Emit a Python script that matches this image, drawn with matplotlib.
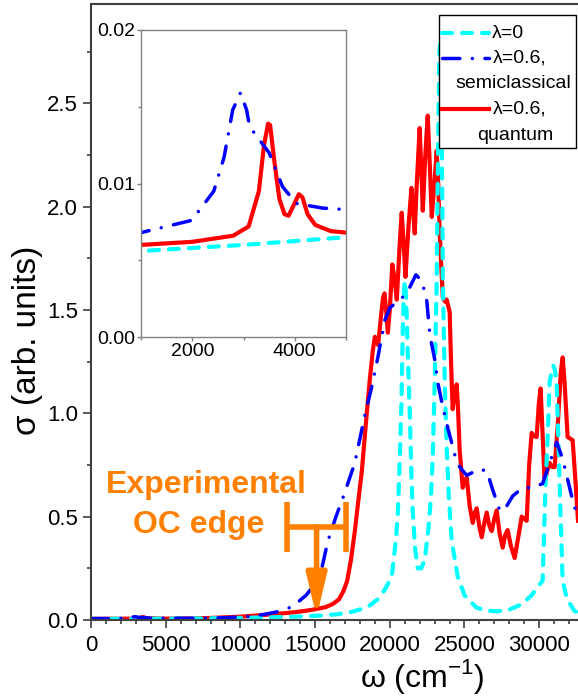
import matplotlib
matplotlib.use("Agg")
import matplotlib.pyplot as plt
from matplotlib.lines import Line2D
from matplotlib.patches import Rectangle
from matplotlib.ticker import MultipleLocator, FormatStrFormatter

plt.rcParams.update({
    "font.family": ["Liberation Sans", "DejaVu Sans"],
    "mathtext.fontset": "custom",
    "mathtext.rm": "Liberation Sans",
})

CYAN = "#00FFFF"; BLUE = "#0000FF"; RED = "#FF0000"; ORANGE = "#FF8000"
SPINE = "#404040"

# lambda = 0
cyan_w = [0, 1000, 3000, 5000, 8000, 10000, 12000, 14000, 15500, 16500, 17500, 18500,
          19200, 19700, 20130, 20400, 20540, 20680, 20780, 20870, 20950, 21020, 21100,
          21200, 21340, 21440, 21540, 21700, 21870, 22100, 22340, 22600, 22760, 22880,
          23010, 23140, 23230, 23320, 23400, 23470, 23550, 23680, 23800, 23950, 24150,
          24550, 25000, 25800, 26500, 27200, 28000, 28800, 29500, 29900, 30230, 30430,
          30580, 30700, 30850, 30950, 31050, 31170, 31370, 31570, 31800, 32050, 32350, 32600]
cyan_s = [0.0050, 0.0056, 0.0060, 0.0065, 0.0080, 0.010, 0.013, 0.017, 0.022, 0.028, 0.040, 0.062,
          0.10, 0.15, 0.21, 0.38, 0.52, 0.80, 1.05, 1.40, 1.60, 1.64, 1.55,
          1.30, 1.00, 0.72, 0.52, 0.34, 0.25, 0.25, 0.29, 0.45, 0.60, 0.80,
          1.16, 1.64, 2.25, 2.75, 2.80, 2.50, 1.64, 1.16, 0.85, 0.60, 0.38,
          0.21, 0.12, 0.06, 0.045, 0.042, 0.05, 0.075, 0.12, 0.16, 0.19, 0.66,
          0.90, 1.15, 1.21, 1.23, 1.21, 1.15, 0.66, 0.19, 0.12, 0.08, 0.045, 0.035]

# lambda = 0.6, semiclassical
blue_w = [0, 1000, 1990, 2420, 2620, 2790, 2940, 3060, 3120, 3500, 3760, 4030, 4540, 5000,
          7000, 9000, 10500, 11500, 12500, 13500, 14400, 15060, 15450, 15850, 16400, 16860,
          17660, 18330, 18800, 19200, 19670, 20000, 21000, 21340, 21750, 22140, 22470, 22680,
          23010, 23210, 23550, 23880, 24350, 24680, 25150, 26020, 26500, 26890, 27360, 27650,
          28230, 28900, 29570, 30230, 30700, 31170, 31570, 31840, 32240, 32600]
blue_s = [0.0065, 0.0068, 0.0076, 0.0095, 0.0117, 0.0148, 0.0159, 0.0148, 0.0137, 0.0120,
          0.0098, 0.0087, 0.0084, 0.0083,
          0.0085, 0.011, 0.017, 0.026, 0.040, 0.065, 0.12, 0.18, 0.25, 0.38, 0.50, 0.59,
          0.76, 0.99, 1.13, 1.27, 1.45, 1.51, 1.57, 1.61, 1.67, 1.64, 1.55, 1.38,
          1.26, 1.15, 1.03, 0.93, 0.80, 0.74, 0.70, 0.73, 0.72, 0.63, 0.53, 0.53,
          0.60, 0.64, 0.64, 0.66, 0.76, 0.86, 0.78, 0.70, 0.58, 0.49]

# lambda = 0.6, quantum
red_w = [0, 1000, 2000, 2800, 3100, 3300, 3400, 3480, 3520, 3600, 3700, 3800, 3880, 3980,
         4080, 4150, 4250, 4400, 4700, 5000, 6500, 8000, 10000, 11500, 12500, 13700, 14700,
         15700, 16200, 16600, 16900, 17150, 17400, 17660, 17900, 18130, 18460, 18660, 18860,
         19000, 19100, 19220, 19400, 19550, 19650, 19750, 19870, 20000, 20170, 20300, 20470,
         20650, 20800, 20930, 21050, 21250, 21450, 21550, 21670, 21800, 22000, 22100, 22210,
         22380, 22540, 22680, 22810, 22980, 23140, 23250, 23340, 23550, 23700, 23810, 24010,
         24100, 24210, 24350, 24480, 24580, 24680, 24883, 25020, 25151, 25350, 25552, 25700,
         25819, 26000, 26154, 26330, 26488, 26650, 26823, 27000, 27157, 27350, 27559, 27720,
         27893, 28100, 28361, 28600, 28829, 29000, 29164, 29330, 29498, 29650, 29833, 29980,
         30100, 30230, 30368, 30530, 30702, 30870, 31037, 31250, 31450, 31572, 31700, 31906,
         32241, 32450, 32600]
red_s = [0.006, 0.006, 0.0062, 0.0066, 0.0072, 0.0095, 0.0125, 0.0139, 0.0138, 0.0115, 0.0090,
         0.0080, 0.0079, 0.0086, 0.0093, 0.0091, 0.0080, 0.0073, 0.0069, 0.0068, 0.0075, 0.010,
         0.016, 0.024, 0.030, 0.038, 0.048, 0.062, 0.078, 0.10, 0.14, 0.19, 0.29, 0.43, 0.58,
         0.72, 1.00, 1.16, 1.30, 1.37, 1.36, 1.33, 1.46, 1.56, 1.58, 1.50, 1.39, 1.50, 1.72,
         1.66, 1.55, 1.80, 1.97, 1.82, 1.66, 1.90, 2.09, 2.00, 1.87, 2.10, 2.38, 2.20, 1.98,
         2.25, 2.44, 2.20, 1.95, 2.10, 2.27, 2.10, 1.87, 1.56, 1.54, 1.55, 1.49, 1.25, 1.02,
         1.10, 1.14, 1.00, 0.82, 0.64, 0.67, 0.69, 0.55, 0.47, 0.52, 0.54, 0.45, 0.40, 0.47,
         0.52, 0.46, 0.43, 0.49, 0.53, 0.42, 0.35, 0.41, 0.435, 0.36, 0.30, 0.40, 0.50, 0.49,
         0.48, 0.75, 0.905, 0.89, 0.885, 1.05, 1.12, 0.90, 0.66, 0.72, 0.76, 0.74, 0.74, 0.95,
         1.20, 1.27, 1.15, 0.885, 0.87, 0.65, 0.48]

# experimental optical-conductivity edge
edge_w = 15100
edge_err = 2000

W, H = 578, 698
def fx(px): return px / W
def fy(py): return 1 - py / H

fig = plt.figure(figsize=(W / 100, H / 100), dpi=100)
ax = fig.add_axes([fx(91), fy(620), 1 - fx(91), fy(4) - fy(620)])

cyan_style = dict(color=CYAN, lw=3, ls=(0, (2.4, 2.4)), dash_capstyle="round")
blue_style = dict(color=BLUE, lw=2.5, ls=(0, (5, 3.6, 0.01, 3.6)), dash_capstyle="round")
red_style = dict(color=RED, lw=3, solid_joinstyle="round")

ax.plot(red_w, red_s, **red_style)
ax.plot(cyan_w, cyan_s, **cyan_style)
ax.plot(blue_w, blue_s, **blue_style)

ax.set_xlim(0, 32600)
ax.set_ylim(0, 2.98)
ax.xaxis.set_major_locator(MultipleLocator(5000))
ax.xaxis.set_minor_locator(MultipleLocator(1000))
ax.yaxis.set_major_locator(MultipleLocator(0.5))
ax.yaxis.set_minor_locator(MultipleLocator(0.25))
ax.yaxis.set_major_formatter(FormatStrFormatter("%.1f"))
ax.tick_params(which="major", direction="out", length=5.5, width=1.2, labelsize=16,
               color=SPINE, pad=4)
ax.tick_params(which="minor", direction="out", length=3, width=1.2, color=SPINE)
ax.tick_params(axis="x", pad=5)
for s in ("left", "bottom", "top"):
    ax.spines[s].set_color(SPINE)
    ax.spines[s].set_linewidth(1.5)
ax.spines["right"].set_visible(False)

ax.set_ylabel("σ (arb. units)", fontsize=24)
ax.yaxis.set_label_coords(-0.098, (620 - 340) / 616)
ax.set_xlabel("ω (cm$^{\\mathregular{-1}}$)", fontsize=23, va="center")
ax.xaxis.set_label_coords((422 - 91) / 487, (620 - 677) / 616)

# experimental edge marker
ax.errorbar([edge_w], [0.45], xerr=[edge_err], fmt="none", ecolor=ORANGE,
            elinewidth=4, capsize=18, capthick=4)
ax.annotate("", xy=(edge_w, 0.015), xytext=(edge_w, 0.45),
            arrowprops=dict(arrowstyle="-|>,head_length=1.25,head_width=0.3",
                            mutation_scale=20, color=ORANGE, lw=4,
                            shrinkA=0, shrinkB=0))
fig.text(fx(206), fy(493), "Experimental", ha="center", va="baseline",
         fontsize=23, fontweight="bold", color=ORANGE)
fig.text(fx(199), fy(533), "OC edge", ha="center", va="baseline",
         fontsize=23, fontweight="bold", color=ORANGE)

# inset: low-frequency region
axin = fig.add_axes([fx(141), fy(337), fx(346) - fx(141), fy(30) - fy(337)])
axin.plot(red_w, red_s, **red_style)
axin.plot(cyan_w, cyan_s, **cyan_style)
axin.plot(blue_w, blue_s, **blue_style)
axin.set_xlim(1000, 5000)
axin.set_ylim(0, 0.02)
axin.xaxis.set_major_locator(MultipleLocator(2000))
axin.xaxis.set_minor_locator(MultipleLocator(1000))
axin.yaxis.set_major_locator(MultipleLocator(0.01))
axin.yaxis.set_minor_locator(MultipleLocator(0.005))
axin.yaxis.set_major_formatter(FormatStrFormatter("%.2f"))
axin.tick_params(which="major", direction="out", length=3, width=1, labelsize=14,
                 color="#808080", pad=1)
axin.tick_params(which="minor", direction="out", length=2, width=1, color="#808080")
for s in axin.spines.values():
    s.set_color("#808080")
    s.set_linewidth(1)

# legend, drawn by hand so the two-line labels sit centred
fig.add_artist(Rectangle((fx(439), fy(148)), fx(576) - fx(439), fy(15) - fy(148),
                         transform=fig.transFigure, facecolor="white",
                         edgecolor="black", lw=1, zorder=5))
for y, style in ((33, cyan_style), (58, blue_style), (109, red_style)):
    fig.add_artist(Line2D([fx(442), fx(489)], [fy(y), fy(y)], transform=fig.transFigure,
                          zorder=6, **style))
fig.text(fx(492), fy(33), "λ=0", ha="left", va="center", fontsize=14, zorder=7)
fig.text(fx(520), fy(58), "λ=0.6,", ha="center", va="center", fontsize=14, zorder=7)
fig.text(fx(513), fy(84), "semiclassical", ha="center", va="center", fontsize=14, zorder=7)
fig.text(fx(520), fy(109), "λ=0.6,", ha="center", va="center", fontsize=14, zorder=7)
fig.text(fx(515), fy(135), "quantum", ha="center", va="center", fontsize=14, zorder=7)

fig.savefig("out.png", dpi=100, facecolor="white")
